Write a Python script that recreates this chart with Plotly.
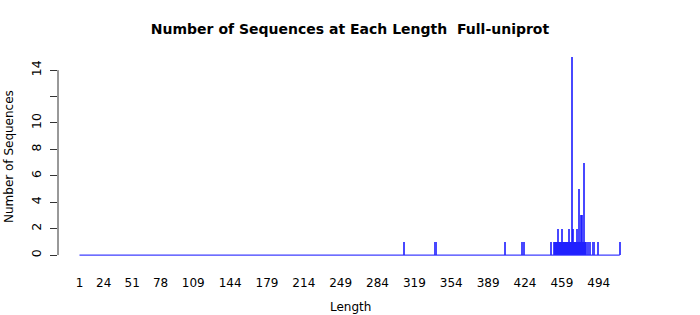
import plotly.graph_objects as go

# Data (sequence length -> count)
lengths = [309, 339, 405, 421, 423,
           449, 452, 453, 454, 455, 456, 457, 458, 459, 460, 461, 462, 463, 464, 465,
           466, 467, 468, 469, 470, 471, 472, 473, 474, 475, 476, 477, 478, 479, 480,
           481, 482, 484, 486, 489, 493, 514]
counts = [1, 1, 1, 1, 1,
          1, 1, 1, 1, 2, 1, 1, 1, 2, 1, 1, 1, 1, 1, 1,
          2, 1, 1, 15, 2, 1, 1, 2, 1, 5, 1, 3, 3, 1, 7,
          1, 1, 1, 1, 1, 1, 1]
x_tick_labels = [1, 24, 51, 78, 109, 144, 179, 214, 249, 284, 319, 354, 389, 424, 459, 494]
y_tick_vals = [0, 2, 4, 6, 8, 10, 12, 14]
y_tick_text = ["0", "2", "4", "6", "8", "10", "", "14"]

min_len = 1
max_len = max(lengths)

fig = go.Figure()
# baseline of zero-height bars across the full length range
fig.add_trace(go.Scatter(x=[min_len, max_len], y=[0, 0], mode="lines",
                         line=dict(color="rgba(40,40,255,0.9)", width=1.2),
                         hoverinfo="skip", showlegend=False))
fig.add_trace(go.Bar(x=lengths, y=counts, width=2.0,
                     marker=dict(color="rgba(20,20,255,0.78)", line=dict(width=0)),
                     showlegend=False))

font = "DejaVu Sans, sans-serif"
fig.update_layout(
    width=700, height=315,
    margin=dict(l=58, r=60, t=49, b=52, autoexpand=False),
    paper_bgcolor="white", plot_bgcolor="white",
    bargap=0,
    font=dict(family=font, size=12, color="black"),
    title=dict(text="<b>Number of Sequences at Each Length  Full-uniprot</b>",
               x=350 / 700, xanchor="center", y=1 - 29 / 315, yanchor="middle",
               font=dict(size=14, family=font, color="black")),
    xaxis=dict(range=[-19.4, 533.2], showgrid=False, zeroline=False, showline=False,
               automargin=False,
               tickmode="array", tickvals=x_tick_labels,
               ticktext=[str(v) for v in x_tick_labels],
               ticks="outside", ticklen=9, tickcolor="rgba(0,0,0,0)",
               tickfont=dict(size=12)),
    yaxis=dict(range=[-0.6, 15.6], showgrid=False, zeroline=False, showline=False,
               automargin=False,
               tickmode="array", tickvals=y_tick_vals, ticktext=y_tick_text,
               ticks="outside", ticklen=7, tickcolor="#333", tickwidth=1,
               ticklabelstandoff=4,
               tickangle=-90, tickfont=dict(size=12.5)),
    shapes=[dict(type="line", xref="paper", yref="y", x0=0, x1=0, y0=0, y1=14,
                 line=dict(color="#333", width=1))],
    annotations=[
        dict(text="Length", xref="paper", yref="paper",
             x=(350 - 58) / 582, y=-(307 - 263) / 214, xanchor="center", yanchor="middle",
             showarrow=False, font=dict(size=12)),
        dict(text="Number of Sequences", xref="paper", yref="paper",
             x=-(58 - 9) / 582, y=0.5, xanchor="center", yanchor="middle",
             textangle=-90, showarrow=False, font=dict(size=12)),
    ],
)

fig.write_html("out.html")
